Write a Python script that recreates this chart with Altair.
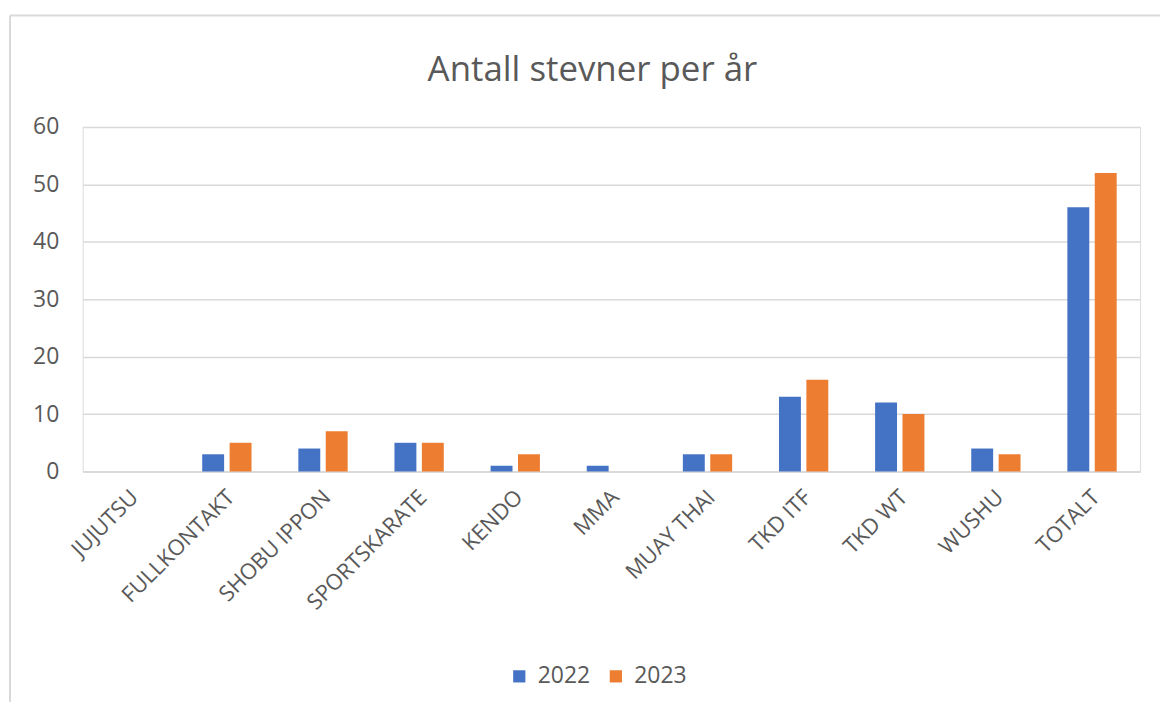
import altair as alt
import pandas as pd

categories = ["JUJUTSU", "FULLKONTAKT", "SHOBU IPPON", "SPORTSKARATE", "KENDO", "MMA",
              "MUAY THAI", "TKD ITF", "TKD WT", "WUSHU", "TOTALT"]
v2022 = [0, 3, 4, 5, 1, 1, 3, 13, 12, 4, 46]
v2023 = [0, 5, 7, 5, 3, 0, 3, 16, 10, 3, 52]
years = ["2022", "2023"]
colors = ["#4472C4", "#ED7D31"]

rows = []
for c, a, b in zip(categories, v2022, v2023):
    rows.append({"kategori": c, "år": "2022", "antall": a})
    rows.append({"kategori": c, "år": "2023", "antall": b})
df = pd.DataFrame(rows)

FONT = "Open Sans"
GREY = "#595959"

bars = alt.Chart(df).mark_bar().encode(
    x=alt.X("kategori:N", sort=categories,
            scale=alt.Scale(paddingInner=0.487, paddingOuter=0.2435),
            axis=alt.Axis(title=None, labelAngle=-45, labelAlign="right",
                          labelBaseline="middle", labelPadding=22, labelOffset=4,
                          labelFontSize=22, labelColor=GREY, labelFont=FONT,
                          ticks=False, domainColor="#d9d9d9", domainWidth=1.5,
                          grid=False)),
    xOffset=alt.XOffset("år:N", sort=years,
                        scale=alt.Scale(paddingInner=0.2, paddingOuter=0)),
    y=alt.Y("antall:Q", scale=alt.Scale(domain=[0, 60], nice=False),
            axis=alt.Axis(title=None, values=[0, 10, 20, 30, 40, 50, 60],
                          labelFontSize=23, labelColor=GREY, labelFont=FONT,
                          labelPadding=24, ticks=False, domain=False,
                          gridColor="#d9d9d9", gridWidth=1.5)),
    color=alt.Color("år:N", sort=years,
                    scale=alt.Scale(domain=years, range=colors),
                    legend=alt.Legend(title=None, orient="none", legendX=427, legendY=540,
                                      direction="horizontal", symbolType="square",
                                      symbolSize=150, symbolStrokeWidth=0,
                                      labelFontSize=23, labelColor=GREY, labelFont=FONT,
                                      columnPadding=14, labelOffset=7)),
)

one = alt.Data(values=[{}])
border_top = alt.Chart(one).mark_rule(color="#d9d9d9", strokeWidth=2).encode(
    x=alt.value(-73), x2=alt.value(1120), y=alt.value(-112))
border_left = alt.Chart(one).mark_rule(color="#d9d9d9", strokeWidth=2).encode(
    x=alt.value(-73), y=alt.value(-112), y2=alt.value(700))

chart = alt.layer(border_top, border_left, bars).properties(
    width=1062, height=346,
    autosize=alt.AutoSizeParams(type="none"),
    padding={"left": 75, "top": 118, "right": 20, "bottom": 230},
    title=alt.TitleParams("Antall stevner per år", fontSize=35, font=FONT,
                          color=GREY, fontWeight="normal", anchor="middle",
                          dx=-19, offset=-74),
).configure_view(stroke=None).configure(background="white")

chart.save("out.html", embed_options={"renderer": "svg", "actions": False})
